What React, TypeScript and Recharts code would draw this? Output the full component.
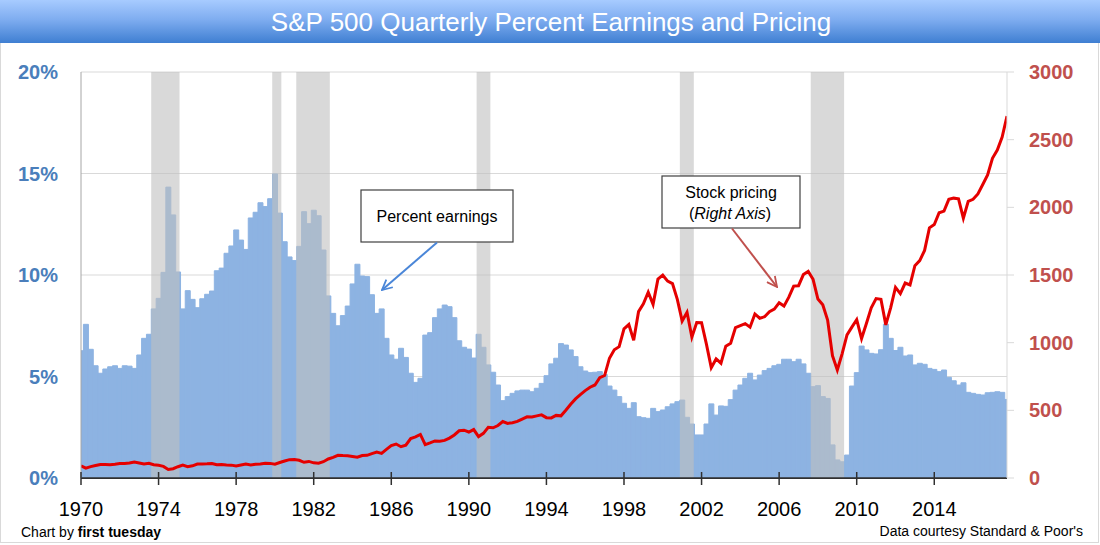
import React from 'react';
import { ComposedChart, Bar, Line, XAxis, YAxis, CartesianGrid, ReferenceArea } from 'recharts';

const START_YEAR = 1970;

// Quarterly earnings yield (%), 1970Q1 .. 2017Q4
const earningsPct = [
  6.27, 7.57, 6.34, 5.53, 5.16, 5.37, 5.48, 5.53, 5.40, 5.53, 5.51, 5.40,
  6.06, 6.88, 7.08, 8.33, 8.85, 10.13, 14.33, 12.96, 10.15, 8.33, 9.23, 8.80,
  8.39, 8.83, 9.05, 9.21, 10.21, 10.34, 11.07, 11.43, 12.22, 11.72, 11.26, 12.81,
  13.09, 13.56, 13.37, 13.76, 14.98, 13.05, 11.64, 10.89, 10.71, 11.41, 13.12, 12.53,
  13.19, 12.92, 11.23, 8.97, 8.11, 7.50, 8.00, 8.47, 9.56, 10.53, 9.95, 9.92,
  9.03, 8.11, 8.33, 6.88, 6.06, 5.85, 6.39, 5.94, 5.16, 4.71, 4.91, 7.04,
  7.16, 7.90, 8.33, 8.52, 8.44, 7.90, 6.76, 6.44, 6.35, 5.91, 7.08, 6.44,
  5.57, 5.21, 4.58, 3.81, 4.01, 4.17, 4.29, 4.33, 4.33, 4.25, 4.42, 4.66,
  5.04, 5.62, 5.90, 6.62, 6.55, 6.31, 5.98, 5.48, 5.27, 5.19, 5.21, 5.24,
  5.10, 4.53, 4.33, 4.01, 3.68, 3.43, 3.71, 3.02, 2.97, 2.94, 3.43, 3.27,
  3.35, 3.51, 3.65, 3.76, 3.84, 2.99, 2.66, 2.12, 2.12, 2.66, 3.65, 3.10,
  3.55, 3.53, 3.86, 4.33, 4.58, 4.91, 5.16, 4.83, 5.07, 5.29, 5.40, 5.53,
  5.60, 5.85, 5.85, 5.73, 5.85, 5.62, 5.16, 4.50, 4.55, 4.01, 3.92, 1.63,
  0.89, 0.80, 1.13, 4.53, 5.19, 6.50, 6.31, 6.14, 6.11, 6.32, 7.58, 6.88,
  6.28, 6.44, 6.01, 6.06, 5.57, 5.65, 5.60, 5.40, 5.35, 5.24, 5.32, 4.96,
  4.79, 4.58, 4.69, 4.22, 4.17, 4.12, 4.09, 4.20, 4.22, 4.25, 4.22, 3.87,
];

// Quarter-end S&P 500 price, 1970Q1 .. 2017Q4
const spPrice = [
  89.63, 72.72, 84.21, 92.15, 100.31, 99.7, 98.34, 102.09, 107.2, 107.14, 110.55, 118.05,
  111.52, 104.26, 108.43, 97.55, 93.98, 86.0, 63.54, 68.56, 83.36, 95.19, 83.87, 90.19,
  102.77, 104.28, 105.24, 107.46, 98.42, 100.48, 96.53, 95.1, 89.21, 95.53, 102.54, 96.11,
  101.59, 102.91, 109.32, 107.94, 102.09, 114.24, 125.46, 135.76, 136.0, 131.21, 116.18, 122.55,
  111.96, 109.61, 120.42, 140.64, 152.96, 168.11, 166.07, 164.93, 159.18, 153.18, 166.1, 167.24,
  180.66, 191.85, 182.08, 211.28, 238.9, 250.84, 231.32, 242.17, 291.7, 304.0, 321.83, 247.08,
  258.89, 273.5, 271.91, 277.72, 294.87, 317.98, 349.15, 353.4, 339.94, 358.02, 306.05, 330.22,
  375.22, 371.16, 387.86, 417.09, 403.69, 408.14, 417.8, 435.71, 451.67, 450.53, 458.93, 466.45,
  445.77, 444.27, 462.69, 459.27, 500.71, 544.75, 584.41, 615.93, 645.5, 670.63, 687.33, 740.74,
  757.12, 885.14, 947.28, 970.43, 1101.75, 1133.84, 1017.01, 1229.23, 1286.37, 1372.71, 1282.71, 1469.25,
  1498.58, 1454.6, 1436.51, 1320.28, 1160.33, 1224.42, 1040.94, 1148.08, 1147.39, 989.82, 815.28, 879.82,
  848.18, 974.5, 995.97, 1111.92, 1126.21, 1140.84, 1114.58, 1211.92, 1180.59, 1191.33, 1228.81, 1248.29,
  1294.83, 1270.2, 1335.85, 1418.3, 1420.86, 1503.35, 1526.75, 1468.36, 1322.7, 1280.0, 1166.36, 903.25,
  797.87, 919.32, 1057.08, 1115.1, 1169.43, 1030.71, 1141.2, 1257.64, 1325.83, 1320.64, 1131.42, 1257.6,
  1408.47, 1362.16, 1440.67, 1426.19, 1569.19, 1606.28, 1681.55, 1848.36, 1872.34, 1960.23, 1972.29, 2058.9,
  2067.89, 2063.11, 1920.03, 2043.94, 2059.74, 2098.86, 2168.27, 2238.83, 2362.72, 2423.41, 2519.36, 2673.61,
];

const yearTicks = [1970, 1974, 1978, 1982, 1986, 1990, 1994, 1998, 2002, 2006, 2010, 2014];
const pctTicks = [0, 5, 10, 15, 20];
const priceTicks = [0, 500, 1000, 1500, 2000, 2500, 3000];

const recessionStarts = [1973.62, 1979.86, 1981.1, 1990.4, 2000.88, 2007.63];
const recessionEnds = [1975.08, 1980.33, 1982.83, 1991.11, 2001.6, 2009.35];

const data = earningsPct.map((e, i) => ({
  t: START_YEAR + i / 4,
  earnings: e,
  price: spPrice[i],
}));

const FONT = '"Liberation Sans", Arial, sans-serif';

const YearTick = (props: any) => {
  const { x, y, payload } = props;
  return (
    <g>
      <line x1={x} x2={x} y1={y - 6} y2={y + 7} stroke="#303030" strokeWidth={1.5} />
      <text x={x} y={y + 38} textAnchor="middle" fontSize={20} fill="#000" fontFamily={FONT}>
        {payload.value}
      </text>
    </g>
  );
};

export default function App() {
  return (
    <div
      style={{
        position: 'absolute',
        left: 0,
        top: 0,
        width: 1100,
        height: 545,
        background: '#fff',
        fontFamily: FONT,
      }}
    >
      <ComposedChart
        width={1100}
        height={545}
        data={data}
        margin={{ top: 72, right: 23, bottom: 27, left: 21 }}
        barCategoryGap={0}
        barGap={0}
      >
        <CartesianGrid yAxisId="pct" vertical={false} stroke="#d9d9d9" strokeWidth={1.2} />
        <XAxis
          dataKey="t"
          type="number"
          domain={[1970, 2017.75]}
          ticks={yearTicks}
          interval={0}
          allowDataOverflow
          height={40}
          tickSize={0}
          tickMargin={0}
          tickLine={false}
          axisLine={{ stroke: '#303030', strokeWidth: 1.75 }}
          tick={<YearTick />}
        />
        <YAxis
          yAxisId="pct"
          orientation="left"
          domain={[0, 20]}
          ticks={pctTicks}
          interval={0}
          width={60}
          tickLine={false}
          tickSize={0}
          tickMargin={23}
          axisLine={{ stroke: '#a6a6a6' }}
          tick={{ fill: '#4a7ebb', fontSize: 20, fontWeight: 700, fontFamily: FONT }}
          tickFormatter={(v: number) => `${v}%`}
        />
        <YAxis
          yAxisId="price"
          orientation="right"
          domain={[0, 3000]}
          ticks={priceTicks}
          interval={0}
          width={70}
          tickSize={7}
          tickMargin={15}
          tickLine={{ stroke: '#d9d9d9' }}
          axisLine={{ stroke: '#d9d9d9' }}
          tick={{ fill: '#c0504d', fontSize: 20, fontWeight: 700, fontFamily: FONT }}
        />
        <Bar
          yAxisId="pct"
          dataKey="earnings"
          fill="#8db3e2"
          stroke="#8db3e2"
          strokeWidth={1}
          isAnimationActive={false}
        />
        {recessionStarts.map((s, i) => (
          <ReferenceArea
            key={i}
            yAxisId="pct"
            x1={s}
            x2={recessionEnds[i]}
            fill="#bfbfbf"
            fillOpacity={0.6}
            stroke="none"
            {...({ zIndex: 350 } as any)}
          />
        ))}
        <Line
          yAxisId="price"
          dataKey="price"
          type="linear"
          stroke="#e50000"
          strokeWidth={3}
          dot={false}
          activeDot={false}
          isAnimationActive={false}
        />
      </ComposedChart>

      <svg
        width={1100}
        height={545}
        style={{ position: 'absolute', left: 0, top: 0, pointerEvents: 'none' }}
        fontFamily={FONT}
      >
        <defs>
          <linearGradient id="titleGrad" x1="0" y1="0" x2="0" y2="1">
            <stop offset="0%" stopColor="#a7cbff" />
            <stop offset="45%" stopColor="#7fadf0" />
            <stop offset="100%" stopColor="#3f7fd2" />
          </linearGradient>
          <marker id="arrBlue" viewBox="0 0 12 12" refX="11" refY="6" markerWidth="12" markerHeight="12" markerUnits="userSpaceOnUse" orient="auto">
            <path d="M1,1 L11,6 L1,11" fill="none" stroke="#4a86d8" strokeWidth={1.8} />
          </marker>
          <marker id="arrRed" viewBox="0 0 12 12" refX="11" refY="6" markerWidth="12" markerHeight="12" markerUnits="userSpaceOnUse" orient="auto">
            <path d="M1,1 L11,6 L1,11" fill="none" stroke="#c0504d" strokeWidth={1.8} />
          </marker>
        </defs>
        <rect x={0.5} y={0.5} width={1098} height={542} fill="none" stroke="#d9d9d9" />
        <rect x={0} y={0} width={1100} height={43} fill="url(#titleGrad)" />
        <text x={551} y={31} textAnchor="middle" fontSize={26} fill="#fff">
          S&amp;P 500 Quarterly Percent Earnings and Pricing
        </text>

        <rect x={361} y={190} width={152} height={52} fill="#fff" stroke="#404040" strokeWidth={1.2} />
        <text x={437} y={222} textAnchor="middle" fontSize={16} fill="#000">
          Percent earnings
        </text>
        <line x1={437} y1={242.5} x2={382} y2={290} stroke="#4a86d8" strokeWidth={2} markerEnd="url(#arrBlue)" />

        <rect x={662} y={176} width={138} height={52} fill="#fff" stroke="#404040" strokeWidth={1.2} />
        <text x={731} y={197.5} textAnchor="middle" fontSize={16} fill="#000">
          Stock pricing
        </text>
        <text x={730} y={219} textAnchor="middle" fontSize={16} fill="#000">
          (<tspan fontStyle="italic">Right Axis</tspan>)
        </text>
        <line x1={732} y1={228.5} x2={777} y2={287} stroke="#c0504d" strokeWidth={2} markerEnd="url(#arrRed)" />

        <text x={21} y={537} fontSize={14} fill="#000">
          Chart by <tspan fontWeight={700}>first tuesday</tspan>
        </text>
        <text x={1083} y={536} textAnchor="end" fontSize={14} fill="#000">
          Data courtesy Standard &amp; Poor's
        </text>
      </svg>
    </div>
  );
}
